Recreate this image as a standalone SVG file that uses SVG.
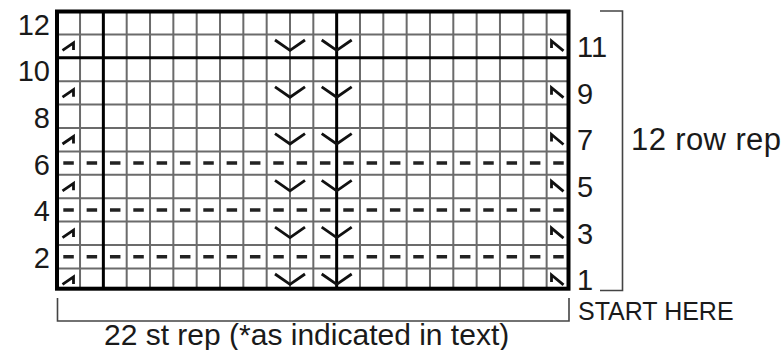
<svg xmlns="http://www.w3.org/2000/svg" xmlns:xlink="http://www.w3.org/1999/xlink" width="782" height="350" viewBox="0 0 782 350">
<style>
.thin{stroke:#6b6b6b;stroke-width:2;fill:none}
.thick{stroke:#000;stroke-width:3;fill:none}
.border{stroke:#000;stroke-width:4;fill:none}
.sym{stroke:#111;stroke-width:2.8;fill:none;stroke-linejoin:miter;stroke-linecap:butt}
.dash{stroke:#222;stroke-width:3.5;stroke-dasharray:10.5 12.83;fill:none}
.br{stroke:#444;stroke-width:1.6;fill:none}
text{font-family:"Liberation Sans",Arial,sans-serif;fill:#1a1a1a}
.num{font-size:29px}
.rep{font-size:31px}
.start{font-size:25px}
.st{font-size:30px}
</style>
<defs>
<g id="oddrow">
<path class="sym" d="M62.5,16 L73.5,8.5 L73.5,15.5"/>
<path class="sym" d="M275,5.6 L290,16 L305,5.6"/>
<path class="sym" d="M321.7,5.6 L336.7,16 L351.7,5.6"/>
<path class="sym" d="M551.5,13.5 L551.5,6.5 L563.5,16.5"/>
</g>
</defs>
<g id="grid">
<rect x="57" y="11.5" width="511.5" height="277.2" fill="#fff"/>
<path class="thin" d="M80.03,11.5V288.7 M126.69,11.5V288.7 M150.02,11.5V288.7 M173.35,11.5V288.7 M196.68,11.5V288.7 M220.01,11.5V288.7 M243.34,11.5V288.7 M266.67,11.5V288.7 M290,11.5V288.7 M313.33,11.5V288.7 M359.99,11.5V288.7 M383.32,11.5V288.7 M406.65,11.5V288.7 M429.98,11.5V288.7 M453.31,11.5V288.7 M476.64,11.5V288.7 M499.97,11.5V288.7 M523.3,11.5V288.7 M546.63,11.5V288.7"/>
<path class="thin" d="M57,34.4H568.5 M57,81.2H568.5 M57,104.6H568.5 M57,128H568.5 M57,151.4H568.5 M57,174.8H568.5 M57,198.2H568.5 M57,221.6H568.5 M57,245H568.5 M57,268.4H568.5"/>
<path class="thick" d="M103.36,11.5V288.7 M336.66,11.5V288.7 M57,57.8H568.5"/>
<rect class="border" x="57" y="11.5" width="511.5" height="277.2"/>
</g>
<g id="dashes">
<path class="dash" d="M63.3,163.1H564 M63.3,209.9H564 M63.3,256.7H564"/>
</g>
<g id="symbols">
<use xlink:href="#oddrow" transform="translate(0,34.4)"/>
<use xlink:href="#oddrow" transform="translate(0,81.2)"/>
<use xlink:href="#oddrow" transform="translate(0,128)"/>
<use xlink:href="#oddrow" transform="translate(0,174.8)"/>
<use xlink:href="#oddrow" transform="translate(0,221.6)"/>
<use xlink:href="#oddrow" transform="translate(0,268.4)"/>
</g>
<g id="left-numbers" class="num" text-anchor="end">
<text x="50" y="34.5">12</text>
<text x="50" y="81">10</text>
<text x="50" y="127.8">8</text>
<text x="50" y="174.6">6</text>
<text x="50" y="221.2">4</text>
<text x="50" y="267.8">2</text>
</g>
<g id="right-numbers" class="num">
<text x="577" y="56.8">11</text>
<text x="577" y="103.5">9</text>
<text x="577" y="150.2">7</text>
<text x="577" y="196.9">5</text>
<text x="577" y="243.5">3</text>
<text x="577" y="290">1</text>
</g>
<g id="row-bracket">
<path class="br" d="M600,11H622.5V290.5H600"/>
<text class="rep" x="631" y="150" textLength="150" lengthAdjust="spacing">12 row rep</text>
</g>
<g id="st-bracket">
<path class="br" d="M57.5,298V321H569V298"/>
<text class="start" x="578" y="320">START HERE</text>
<text class="st" x="104" y="344.5">22 st rep (*as indicated in text)</text>
</g>
</svg>
